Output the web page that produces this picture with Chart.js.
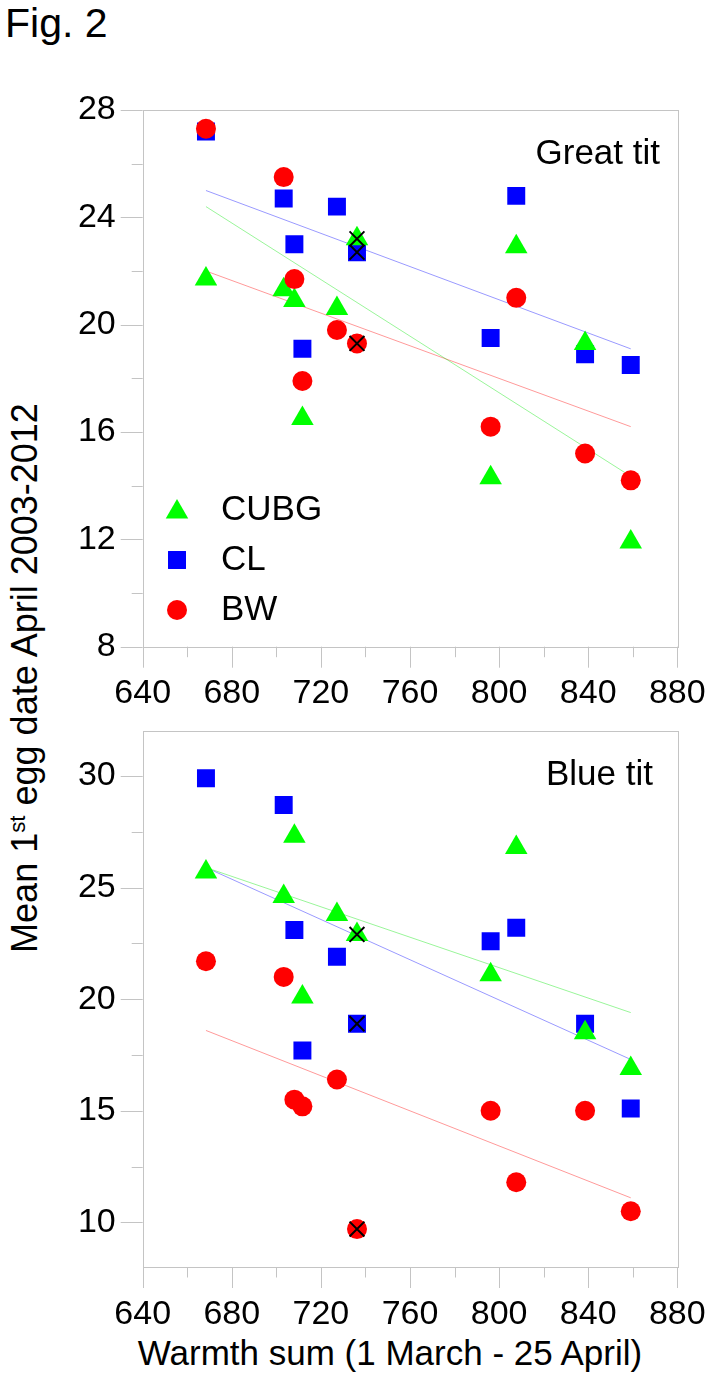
<!DOCTYPE html>
<html>
<head>
<meta charset="utf-8">
<script src="https://cdn.jsdelivr.net/npm/chart.js@4.4.1/dist/chart.umd.min.js"></script>
<style>
  body { margin: 0; background: #fff; width: 713px; height: 1379px; position: relative; overflow: hidden;
         font-family: "Liberation Sans", Arial, sans-serif; color: #000; }
  canvas { position: absolute; left: 0; }
  #topChart { top: 60px; }
  #bottomChart { top: 700px; }
  #fig { position: absolute; left: 5px; top: 3px; font-size: 41px; line-height: 1; }
  #ytitle { position: absolute; left: 25px; top: 678px; font-size: 36px; line-height: 1; white-space: nowrap;
            transform: translate(-50%, -50%) rotate(-90deg); }
  #ytitle sup { font-size: 0.62em; line-height: 0; vertical-align: 0.55em; }
  #xtitle { position: absolute; left: 390px; top: 1352px; font-size: 35px; line-height: 1; white-space: nowrap;
            transform: translate(-50%, -50%); }
</style>
</head>
<body>
<div id="fig">Fig. 2</div>
<div id="ytitle">Mean 1<sup>st</sup> egg date April 2003-2012</div>
<div id="xtitle">Warmth sum (1 March - 25 April)</div>
<canvas id="topChart" width="713" height="670"></canvas>
<canvas id="bottomChart" width="713" height="679"></canvas>
<script>
// warmth sum for the 10 years (x values shared by all series)
const warmth = [668.4, 703.3, 708.1, 711.7, 727.2, 736.2, 796.2, 807.7, 838.6, 859.1];
const excludedIndex = [5];          // points marked with a cross
const fitRange = [668.4, 859.1];    // x extent of the regression lines
const seriesNames = ['CUBG', 'CL', 'BW'];

// Great tit
const greatCUBG = [21.7, 21.3, 20.9, 16.5, 20.6, 23.2, 14.3, 22.9, 19.3, 11.9];
const greatCL   = [27.2, 24.7, 23.0, 19.1, 24.4, 22.7, 19.5, 24.8, 18.9, 18.5];
const greatBW   = [27.3, 25.5, 21.7, 17.9, 19.8, 19.3, 16.2, 21.0, 15.2, 14.2];
const greatFitCUBG = [24.4, 14.35];
const greatFitCL   = [25.0, 19.1];
const greatFitBW   = [22.0, 16.2];

// Blue tit
const blueCUBG = [25.7, 24.6, 27.3, 20.1, 23.8, 22.9, 21.1, 26.8, 18.5, 16.9];
const blueCL   = [29.9, 28.7, 23.1, 17.7, 21.9, 18.9, 22.6, 23.2, 18.9, 15.1];
const blueBW   = [21.7, 21.0, 15.5, 15.2, 16.4, 9.7, 15.0, 11.8, 15.0, 10.5];
const blueFitCUBG = [25.9, 19.4];
const blueFitCL   = [25.9, 17.3];
const blueFitBW   = [18.6, 11.1];

// tick labels
const xTickLabels = [640, 680, 720, 760, 800, 840, 880];
const greatTickLabels = [8, 12, 16, 20, 24, 28];
const blueTickLabels = [10, 15, 20, 25, 30];

const FONT = '"Liberation Sans", Arial, sans-serif';
const GRAY = '#c4c4c4';
const STYLE = {
  CUBG: { color: '#00ff00', shape: 'triangle', r: 13,   line: 'rgba(0,230,0,0.4)' },
  CL:   { color: '#0000ff', shape: 'rect',     r: 12.7, line: 'rgba(0,0,255,0.4)' },
  BW:   { color: '#ff0000', shape: 'circle',   r: 10,   line: 'rgba(255,0,0,0.4)' }
};
const ORDER = { BW: 1, CUBG: 2, CL: 3 };

Chart.defaults.color = '#000';
Chart.defaults.font.family = FONT;

const toPoints = ys => ys.map((y, i) => ({ x: warmth[i], y }));

// frame round the plot area, long major and short minor tick marks
const frameTicks = {
  id: 'frameTicks',
  beforeDatasetsDraw(chart) {
    const { ctx, chartArea: a, scales: { x, y } } = chart;
    ctx.save();
    ctx.strokeStyle = GRAY;
    ctx.lineWidth = 1;
    ctx.strokeRect(Math.round(a.left) + 0.5, Math.round(a.top) + 0.5,
                   Math.round(a.right - a.left), Math.round(a.bottom - a.top));
    ctx.beginPath();
    x.ticks.forEach(t => {
      const px = Math.round(x.getPixelForValue(t.value)) + 0.5;
      const len = t.label !== '' ? 21 : 10.5;
      ctx.moveTo(px, a.bottom);
      ctx.lineTo(px, a.bottom + len);
    });
    y.ticks.forEach(t => {
      const py = Math.round(y.getPixelForValue(t.value)) + 0.5;
      const len = t.label !== '' ? 22 : 11;
      ctx.moveTo(a.left - len, py);
      ctx.lineTo(a.left, py);
    });
    ctx.stroke();
    ctx.restore();
  }
};

// species name and (optionally) the legend inside the plot
const panelText = {
  id: 'panelText',
  afterDraw(chart, args, opts) {
    const ctx = chart.ctx;
    ctx.save();
    ctx.font = '35px ' + FONT;
    ctx.fillStyle = '#000';
    ctx.textAlign = 'right';
    ctx.textBaseline = 'alphabetic';
    ctx.fillText(opts.name, opts.nameX, opts.nameY);
    if (opts.legend) {
      seriesNames.forEach((n, i) => {
        const s = STYLE[n];
        const cy = opts.legendY + i * 50;
        ctx.fillStyle = s.color;
        Chart.helpers.drawPoint(ctx, { pointStyle: s.shape, radius: s.r, rotation: 0, borderWidth: 0 },
                                opts.legendX, cy + (s.shape === 'triangle' ? 2 : 0));
        ctx.fillStyle = '#000';
        ctx.textAlign = 'left';
        ctx.textBaseline = 'middle';
        ctx.fillText(n, opts.legendX + 44, cy);
      });
    }
    ctx.restore();
  }
};

function makePanel(id, series, fits, yMin, yMax, yStep, yLabels, text, pad, xAxisHeight) {
  const datasets = [];
  // crosses over the excluded points
  const crossPts = [];
  seriesNames.forEach(n => excludedIndex.forEach(i => crossPts.push({ x: warmth[i], y: series[n][i] })));
  datasets.push({
    label: 'excluded', data: crossPts, order: 0,
    pointStyle: 'crossRot', pointRadius: 10.5, pointBorderColor: '#000', pointBorderWidth: 2,
    pointBackgroundColor: '#000', showLine: false
  });
  seriesNames.forEach(n => {
    const s = STYLE[n];
    datasets.push({
      label: n, data: toPoints(series[n]), order: ORDER[n],
      pointStyle: s.shape, pointRadius: s.r, pointBackgroundColor: s.color,
      pointBorderWidth: 0, showLine: false
    });
    datasets.push({
      type: 'line', label: n + ' fit', order: 4,
      data: fitRange.map((x, i) => ({ x, y: fits[n][i] })),
      borderColor: s.line, borderWidth: 1, pointRadius: 0, fill: false
    });
  });

  return new Chart(document.getElementById(id), {
    type: 'scatter',
    data: { datasets },
    plugins: [frameTicks, panelText],
    options: {
      responsive: false,
      animation: false,
      devicePixelRatio: 1,
      events: [],
      layout: { padding: pad },
      plugins: { legend: { display: false }, tooltip: { enabled: false }, panelText: text },
      scales: {
        x: {
          type: 'linear', min: 640, max: 880,
          grid: { display: false, drawTicks: false },
          border: { display: false },
          ticks: {
            stepSize: 20, padding: 27, autoSkip: false, maxRotation: 0,
            font: { size: 34 },
            callback: v => xTickLabels.includes(v) ? String(v) : ''
          },
          afterFit: s => { s.height = xAxisHeight; s.paddingLeft = 0; s.paddingRight = 0; }
        },
        y: {
          type: 'linear', min: yMin, max: yMax,
          grid: { display: false, drawTicks: false },
          border: { display: false },
          ticks: {
            stepSize: yStep, padding: 27, autoSkip: false, includeBounds: false,
            font: { size: 34 },
            callback: v => yLabels.includes(v) ? String(v) : ''
          },
          afterFit: s => { s.width = 142.7; s.paddingTop = 0; s.paddingBottom = 0; }
        }
      }
    }
  });
}

makePanel('topChart',
  { CUBG: greatCUBG, CL: greatCL, BW: greatBW },
  { CUBG: greatFitCUBG, CL: greatFitCL, BW: greatFitBW },
  8, 28, 2, greatTickLabels,
  { name: 'Great tit', nameX: 660, nameY: 104, legend: true, legendX: 177, legendY: 450 },
  { top: 50, right: 35.7, left: 0, bottom: 0 }, 83.3);

makePanel('bottomChart',
  { CUBG: blueCUBG, CL: blueCL, BW: blueBW },
  { CUBG: blueFitCUBG, CL: blueFitCL, BW: blueFitBW },
  8, 32, 2.5, blueTickLabels,
  { name: 'Blue tit', nameX: 653, nameY: 85, legend: false },
  { top: 31.4, right: 35.7, left: 0, bottom: 0 }, 112);
</script>
</body>
</html>
